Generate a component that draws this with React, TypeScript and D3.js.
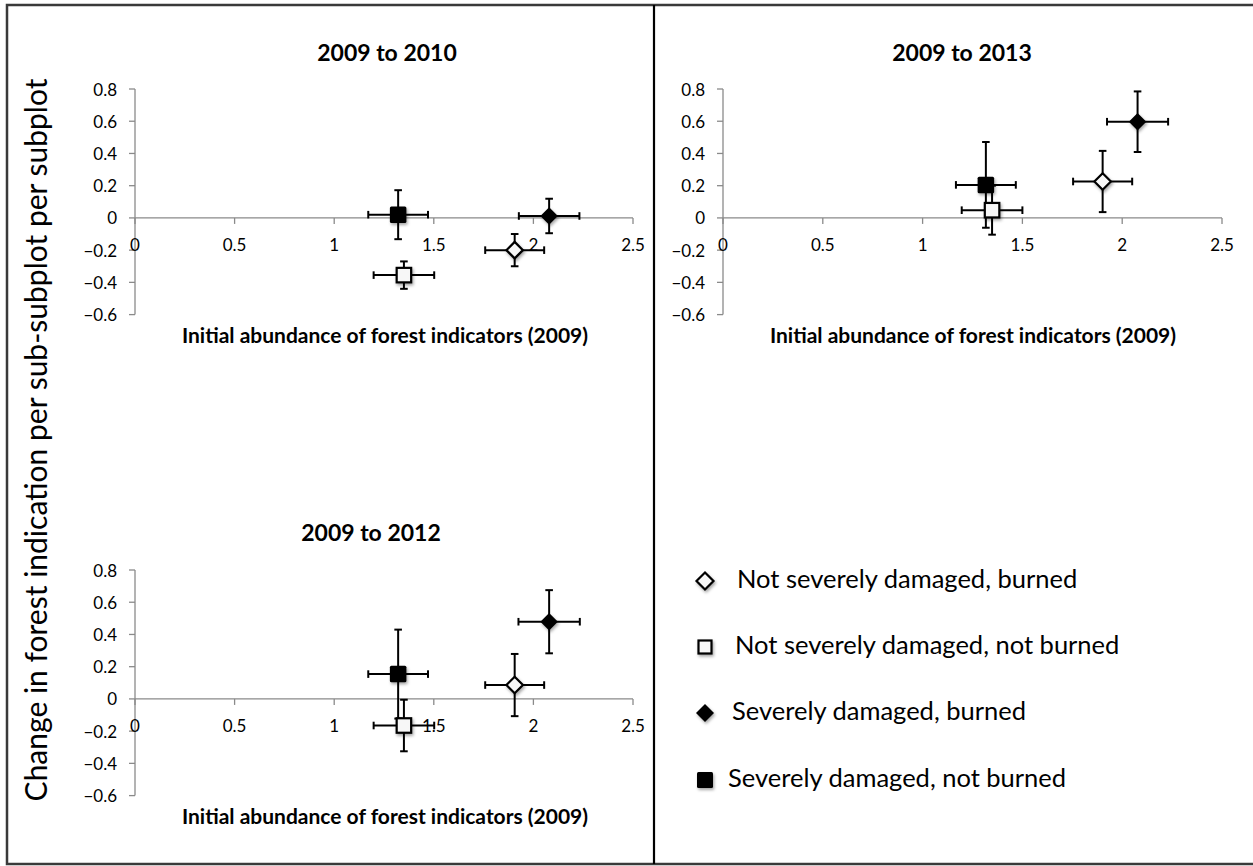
import React from "react";
import * as d3 from "d3";

const W = 1253;
const H = 866;

// Series (legend order)
const seriesNames = [
  "Not severely damaged, burned",
  "Not severely damaged, not burned",
  "Severely damaged, burned",
  "Severely damaged, not burned",
];
const seriesShapes = ["diamond", "square", "diamond", "square"];
const seriesFilled = [false, false, true, true];
// drawing order: filled series first, open ones on top
const drawOrder = [3, 2, 1, 0];

const panelTitles = ["2009 to 2010", "2009 to 2013", "2009 to 2012"];

// 2009 to 2010
const x2010 = [1.906, 1.35, 2.079, 1.321];
const y2010 = [-0.2, -0.355, 0.012, 0.02];
const xErr2010 = [0.148, 0.152, 0.152, 0.15];
const yErr2010 = [0.1, 0.085, 0.107, 0.152];

// 2009 to 2013
const x2013 = [1.902, 1.348, 2.077, 1.317];
const y2013 = [0.226, 0.048, 0.597, 0.205];
const xErr2013 = [0.148, 0.152, 0.153, 0.15];
const yErr2013 = [0.19, 0.152, 0.188, 0.266];

// 2009 to 2012
const x2012 = [1.906, 1.35, 2.079, 1.321];
const y2012 = [0.086, -0.165, 0.479, 0.154];
const xErr2012 = [0.148, 0.152, 0.154, 0.15];
const yErr2012 = [0.193, 0.16, 0.196, 0.276];

const xTicks = [0, 0.5, 1, 1.5, 2, 2.5];
const yTicks = [0.8, 0.6, 0.4, 0.2, 0, -0.2, -0.4, -0.6];
const xAxisTitle = "Initial abundance of forest indicators (2009)";
const yAxisTitle = "Change in forest indication per sub-subplot per subplot";

const panelData = [
  { x: x2010, y: y2010, xe: xErr2010, ye: yErr2010 },
  { x: x2013, y: y2013, xe: xErr2013, ye: yErr2013 },
  { x: x2012, y: y2012, xe: xErr2012, ye: yErr2012 },
];

// layout of each chart panel (pixel frame)
const panelFrames = [
  { left: 135, right: 633, top: 89, bottom: 314.6, titleX: 387, titleY: 52, labelX: 385, labelY: 334 },
  { left: 723, right: 1222, top: 89, bottom: 314.6, titleX: 962, titleY: 52, labelX: 973, labelY: 334 },
  { left: 135, right: 633, top: 570, bottom: 795.6, titleX: 371, titleY: 532, labelX: 385, labelY: 815 },
];

const FONT = "Lato, 'Open Sans', sans-serif";
const AXIS_COLOR = "#8a8a8a";

function Marker({ shape, filled, cx, cy, size }: { shape: string; filled: boolean; cx: number; cy: number; size: number }) {
  const fill = filled ? "#000" : "#f7f7f7";
  const sw = filled ? 0 : 2.2;
  if (shape === "square") {
    const s = filled ? size : size - 2;
    return (
      <rect x={cx - s / 2} y={cy - s / 2} width={s} height={s} rx={filled ? 1.5 : 0}
        fill={fill} stroke="#000" strokeWidth={sw} filter="url(#mshadow)" />
    );
  }
  const r = filled ? size / 2 + 0.5 : size / 2;
  const pts = [[cx, cy - r], [cx + r, cy], [cx, cy + r], [cx - r, cy]].map((p) => p.join(",")).join(" ");
  return <polygon points={pts} fill={fill} stroke="#000" strokeWidth={sw} strokeLinejoin="miter" filter="url(#mshadow)" />;
}

function Panel({ idx }: { idx: number }) {
  const f = panelFrames[idx];
  const d = panelData[idx];
  const xs = d3.scaleLinear().domain([0, 2.5]).range([f.left, f.right]);
  const ys = d3.scaleLinear().domain([-0.6, 0.8]).range([f.bottom, f.top]);
  const y0 = ys(0);
  const cap = 3.8;
  return (
    <g>
      <text x={f.titleX} y={f.titleY} textAnchor="middle" dominantBaseline="central"
        fontFamily={FONT} fontWeight={700} fontSize={23} fill="#000">{panelTitles[idx]}</text>
      {/* y axis */}
      <line x1={f.left} x2={f.left} y1={ys(0.8)} y2={ys(-0.6)} stroke={AXIS_COLOR} strokeWidth={1.3} />
      {yTicks.map((t) => (
        <g key={"yt" + t}>
          <line x1={f.left - 6} x2={f.left} y1={ys(t)} y2={ys(t)} stroke={AXIS_COLOR} strokeWidth={1.3} />
          <text x={f.left - 18} y={ys(t)} textAnchor="end" dominantBaseline="central"
            fontFamily={FONT} fontSize={17} fill="#000">{t === 0 ? "0" : d3.format(".1f")(t)}</text>
        </g>
      ))}
      {/* x axis at y = 0 */}
      <line x1={xs(0)} x2={xs(2.5)} y1={y0} y2={y0} stroke={AXIS_COLOR} strokeWidth={1.3} />
      {xTicks.map((t) => (
        <g key={"xt" + t}>
          <line x1={xs(t)} x2={xs(t)} y1={y0} y2={y0 + 6} stroke={AXIS_COLOR} strokeWidth={1.3} />
          <text x={xs(t)} y={y0 + 27} textAnchor="middle" dominantBaseline="central"
            fontFamily={FONT} fontSize={17} fill="#000">{String(t)}</text>
        </g>
      ))}
      <text x={f.labelX} y={f.labelY} textAnchor="middle" dominantBaseline="central"
        fontFamily={FONT} fontWeight={700} fontSize={21} fill="#000">{xAxisTitle}</text>
      {/* series: error bars then marker */}
      {drawOrder.map((s) => {
        const cx = xs(d.x[s]);
        const cy = ys(d.y[s]);
        const xl = xs(d.x[s] - d.xe[s]);
        const xr = xs(d.x[s] + d.xe[s]);
        const yt = ys(d.y[s] + d.ye[s]);
        const yb = ys(d.y[s] - d.ye[s]);
        return (
          <g key={"s" + s}>
            <g stroke="#000" strokeWidth={2} fill="none">
              <line x1={xl} x2={xr} y1={cy} y2={cy} />
              <line x1={xl} x2={xl} y1={cy - cap} y2={cy + cap} />
              <line x1={xr} x2={xr} y1={cy - cap} y2={cy + cap} />
              <line x1={cx} x2={cx} y1={yt} y2={yb} />
              <line x1={cx - cap} x2={cx + cap} y1={yt} y2={yt} />
              <line x1={cx - cap} x2={cx + cap} y1={yb} y2={yb} />
            </g>
            <Marker shape={seriesShapes[s]} filled={seriesFilled[s]} cx={cx} cy={cy} size={16.5} />
          </g>
        );
      })}
    </g>
  );
}

const legendMarkerX = 705;
const legendTextX = [737, 735, 732, 728];
const legendY = [581, 647, 713, 780];
const legendSizes = [17, 15, 17, 16];

export default function App() {
  return (
    <svg width={W} height={H} style={{ position: "absolute", left: 0, top: 0, background: "#fff" }}>
      <defs>
        <filter id="mshadow" x="-60%" y="-60%" width="220%" height="220%">
          <feDropShadow dx={1.2} dy={2} stdDeviation={1.4} floodColor="#000" floodOpacity={0.35} />
        </filter>
        <filter id="lshadow" x="-5%" y="-300%" width="110%" height="700%">
          <feDropShadow dx={0} dy={2.5} stdDeviation={2} floodColor="#000" floodOpacity={0.3} />
        </filter>
      </defs>
      <rect x={0} y={0} width={W} height={H} fill="#fff" />
      {/* outer frame */}
      <rect x={7} y={5} width={W + 10} height={859} fill="none" stroke="#3a3a3a" strokeWidth={2.5} />
      {/* quadrant dividers */}
      <line x1={654} x2={654} y1={5} y2={864} stroke="#000" strokeWidth={2.2} />
      <line x1={92} x2={1232} y1={462} y2={462} stroke="#000" strokeWidth={3} filter="url(#lshadow)" />
      {/* y axis title */}
      <text transform={`translate(47,440) rotate(-90)`} textAnchor="middle"
        fontFamily={FONT} fontSize={30} fill="#000">{yAxisTitle}</text>
      {panelFrames.map((_, i) => <Panel key={i} idx={i} />)}
      {/* legend */}
      {seriesNames.map((name, i) => (
        <g key={name}>
          <Marker shape={seriesShapes[i]} filled={seriesFilled[i]} cx={legendMarkerX} cy={legendY[i]} size={legendSizes[i]} />
          <text x={legendTextX[i]} y={legendY[i] - 3} dominantBaseline="central"
            fontFamily={FONT} fontSize={25.5} fill="#000">{name}</text>
        </g>
      ))}
    </svg>
  );
}
